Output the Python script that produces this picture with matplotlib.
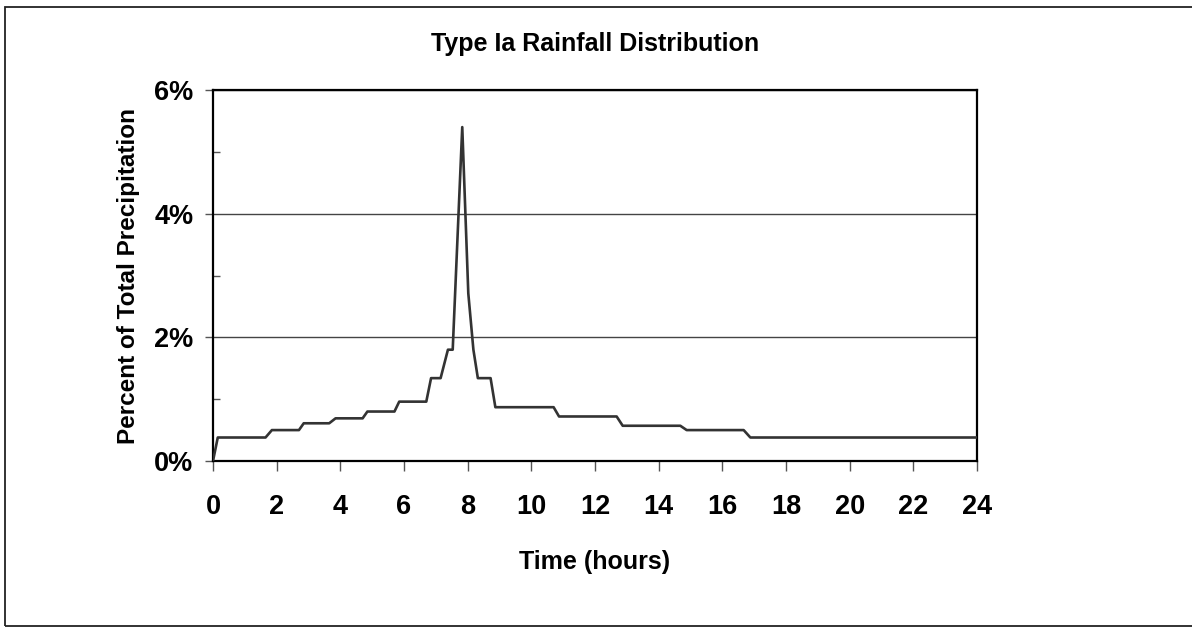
import numpy as np
import matplotlib.pyplot as plt
from matplotlib.patches import Rectangle
from matplotlib.ticker import PercentFormatter, MultipleLocator

plt.rcParams['font.family'] = ['Liberation Sans', 'DejaVu Sans']
plt.rcParams['font.weight'] = 'bold'

# hours, percent of total precipitation
hours = [0, 0.15, 1.65, 1.85, 2.7, 2.85, 3.65, 3.85, 4.7, 4.85, 5.7, 5.85,
         6.7, 6.85, 7.15, 7.38, 7.53, 7.83, 8.02, 8.18, 8.32, 8.72, 8.87,
         10.7, 10.87, 12.68, 12.87, 14.68, 14.88, 16.67, 16.88, 24]
pct = [0, 0.38, 0.38, 0.50, 0.50, 0.61, 0.61, 0.69, 0.69, 0.80, 0.80, 0.96,
       0.96, 1.34, 1.34, 1.80, 1.80, 5.40, 2.71, 1.80, 1.34, 1.34, 0.87,
       0.87, 0.72, 0.72, 0.57, 0.57, 0.50, 0.50, 0.38, 0.38]

W, H = 1192, 627
fig = plt.figure(figsize=(W/100., H/100.), dpi=100)
ax = fig.add_axes([213./W, 1-461./H, (977.-213.)/W, (461.-90.)/H])

ax.plot(hours, pct, color='#333333', lw=1.9, zorder=3)

ax.set_xlim(0, 24)
ax.set_ylim(0, 6)
ax.set_xticks(np.arange(0, 25, 2))
ax.set_yticks([0, 2, 4, 6])
ax.yaxis.set_minor_locator(MultipleLocator(1))
ax.yaxis.set_major_formatter(PercentFormatter(xmax=100, decimals=0))

ax.grid(axis='y', which='major', color='#444444', lw=1.0)
ax.set_axisbelow(True)

for s in ax.spines.values():
    s.set_linewidth(1.6)
    s.set_color('black')

ax.tick_params(axis='x', direction='out', length=7.5, width=1.0, color='#555555',
               labelsize=19.5, pad=16)
ax.tick_params(axis='y', which='major', direction='out', length=6, width=1.0,
               color='#555555', labelsize=19.5, pad=8)
ax.tick_params(axis='y', which='minor', direction='in', length=5, width=1.0,
               color='#555555')

ax.set_title('Type Ia Rainfall Distribution', fontsize=18, fontweight='bold', pad=28)
ax.set_xlabel('Time (hours)', fontsize=18, fontweight='bold', labelpad=22)
ax.set_ylabel('Percent of Total Precipitation', fontsize=17.5, fontweight='bold', labelpad=10)

# outer frame
fig.patches.append(Rectangle((5./W, 1./H), 1.0, 619./H, fill=False,
                             lw=1.3, edgecolor='#222222', transform=fig.transFigure))

fig.savefig('out.png', dpi=100)
